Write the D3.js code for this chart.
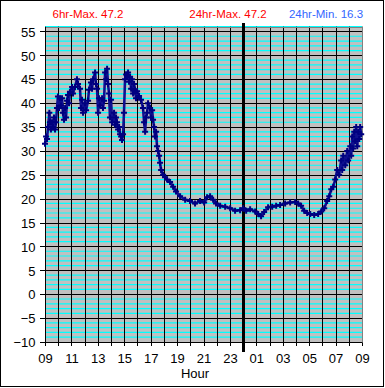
<!DOCTYPE html>
<html>
<head>
<meta charset="utf-8">
<script src="https://cdn.jsdelivr.net/npm/d3@7"></script>
<style>
  body { margin: 0; background: #fff; }
  svg { display: block; font-family: "Liberation Sans", Arial, sans-serif; }
</style>
</head>
<body>
<div id="chart"></div>
<script>
// Hours since 09:00 and temperature readings
const hours = [
  0.00, 0.08, 0.15, 0.23, 0.33, 0.38, 0.45, 0.53, 0.61, 0.68, 0.76, 0.83, 0.91, 0.98,
  1.06, 1.14, 1.21, 1.29, 1.36, 1.44, 1.52, 1.59, 1.67, 1.74, 1.82, 1.89, 2.05, 2.12,
  2.27, 2.42, 2.50, 2.65, 2.73, 2.80, 2.88, 3.03, 3.11, 3.26, 3.33, 3.48, 3.56, 3.64,
  3.79, 3.86, 3.94, 4.02, 4.09, 4.17, 4.32, 4.39, 4.47, 4.55, 4.62, 4.70, 4.77, 4.85,
  4.92, 5.00, 5.08, 5.23, 5.30, 5.38, 5.45, 5.53, 5.61, 5.68, 5.76, 5.83, 5.91, 5.98,
  6.06, 6.14, 6.21, 6.29, 6.36, 6.44, 6.52, 6.59, 6.67, 6.74, 6.82, 6.89, 6.97, 7.12,
  7.27, 7.42, 7.50, 7.58, 7.65, 7.73, 7.80, 7.95, 8.03, 8.11, 8.18, 8.26, 8.33, 8.41,
  8.48, 8.56, 8.64, 8.71, 8.79, 8.94, 9.09, 9.24, 9.47, 9.70, 9.92, 10.23, 10.61, 10.98,
  11.36, 11.74, 12.05, 12.27, 12.50, 12.73, 12.95, 13.26, 13.64, 14.02, 14.39, 14.77,
  15.00, 15.23, 15.53, 15.91, 16.14, 16.36, 16.59, 16.89, 17.20, 17.50, 17.80, 18.18,
  18.56, 18.94, 19.17, 19.39, 19.62, 19.85, 20.08, 20.38, 20.68, 20.91, 21.14, 21.36,
  21.52, 21.67, 21.82, 21.97, 22.12, 22.27, 22.42, 22.50, 22.58, 22.73, 22.88, 22.95,
  23.11, 23.18, 23.26, 23.33, 23.41, 23.48, 23.56, 23.64, 23.71, 23.79, 23.86, 23.94
];
const temps = [
  31.5, 33.0, 32.5, 35.0, 38.0, 36.0, 34.5, 36.0, 35.0, 37.0, 34.5, 36.0, 39.0, 41.4,
  39.0, 41.0, 39.5, 41.0, 38.0, 36.5, 39.0, 37.0, 40.5, 41.7, 40.0, 42.4, 43.4, 42.0,
  43.4, 45.0, 44.0, 43.0, 39.0, 40.7, 38.0, 40.0, 38.5, 40.5, 42.8, 44.3, 43.0, 45.0,
  46.4, 44.0, 43.0, 38.0, 41.0, 39.5, 41.0, 39.0, 40.5, 46.4, 45.0, 47.2, 44.0, 42.0,
  37.0, 40.7, 36.0, 38.0, 35.5, 37.0, 36.0, 34.5, 35.0, 33.5, 33.0, 32.3, 33.5, 38.0,
  45.0, 46.0, 45.5, 46.4, 44.5, 45.5, 43.0, 45.0, 42.0, 44.0, 42.8, 41.0, 42.5, 41.5,
  40.7, 39.0, 36.0, 34.0, 37.0, 38.0, 40.0, 39.0, 37.0, 38.5, 36.5, 35.0, 33.0, 34.0,
  31.0, 30.0, 29.0, 27.5, 26.0, 25.0, 24.5, 24.0, 23.5, 22.5, 21.5, 20.5, 19.8, 19.5,
  19.0, 19.5, 19.2, 20.3, 20.5, 19.8, 19.0, 18.5, 18.3, 18.0, 17.5, 17.6,
  18.0, 17.5, 17.8, 17.3, 16.8, 16.3, 17.2, 18.2, 18.3, 18.5, 18.7, 19.0,
  19.2, 19.3, 19.0, 18.5, 17.5, 17.0, 16.8, 16.6, 16.8, 17.3, 18.0, 19.5,
  20.5, 22.0, 22.5, 24.0, 26.0, 25.0, 28.0, 26.0, 29.0, 27.0, 30.0, 28.0,
  31.0, 29.0, 33.0, 30.5, 34.0, 32.0, 35.0, 31.0, 34.0, 32.5, 35.0, 33.5
];
const yTicks = [-10, -5, 0, 5, 10, 15, 20, 25, 30, 35, 40, 45, 50, 55];
const headers = [
  { text: "6hr-Max. 47.2", color: "#ff0000" },
  { text: "24hr-Max. 47.2", color: "#ff0000" },
  { text: "24hr-Min. 16.3", color: "#3366ff" }
];
const startHour = 9;
const midnight = 15; // hours after 09:00

const W = 385, H = 388;
const plotL = 45, plotR = 362, plotT = 26.7, plotB = 342;

const svg = d3.select("#chart").append("svg")
  .attr("width", W)
  .attr("height", H);

// outer frame
svg.append("rect")
  .attr("x", 0.5).attr("y", 0.5)
  .attr("width", 383).attr("height", 386)
  .attr("fill", "#fff")
  .attr("stroke", "#000");

const x = d3.scaleLinear().domain([0, 24]).range([plotL, plotR]);
const y = d3.scaleLinear().domain([-10, 56]).range([plotB, plotT]);

// plot area
svg.append("rect")
  .attr("x", plotL).attr("y", plotT)
  .attr("width", plotR - plotL).attr("height", plotB - plotT)
  .attr("fill", "#c0c0c0");

// minor cyan lines every 1 unit
const minor = d3.range(-9, 57).filter(v => v % 5 !== 0);
svg.append("g").selectAll("line")
  .data(minor)
  .enter().append("line")
  .attr("x1", plotL).attr("x2", plotR)
  .attr("y1", d => y(d)).attr("y2", d => y(d))
  .attr("stroke", "#00ffff")
  .attr("stroke-width", 1.2);

// major horizontal lines
svg.append("g").selectAll("line")
  .data(yTicks)
  .enter().append("line")
  .attr("x1", plotL - 5).attr("x2", plotR)
  .attr("y1", d => Math.round(y(d)) + 0.5).attr("y2", d => Math.round(y(d)) + 0.5)
  .attr("stroke", "#000");

// vertical hour lines
svg.append("g").selectAll("line")
  .data(d3.range(0, 25))
  .enter().append("line")
  .attr("x1", d => Math.round(x(d)) + 0.5).attr("x2", d => Math.round(x(d)) + 0.5)
  .attr("y1", plotT).attr("y2", plotB + 4)
  .attr("stroke", "#000");

// plot border (right/top gray)
svg.append("rect")
  .attr("x", plotL + 0.5).attr("y", Math.round(plotT) + 0.5)
  .attr("width", plotR - plotL).attr("height", plotB - Math.round(plotT))
  .attr("fill", "none")
  .attr("stroke", "#808080");

// y axis
const yAxis = svg.append("g")
  .attr("transform", `translate(${plotL + 0.5},0)`)
  .call(d3.axisLeft(y).tickValues(yTicks).tickSize(5).tickPadding(5));
yAxis.select(".domain").attr("d", `M0,${Math.round(plotT)}V${plotB + 0.5}`).attr("stroke", "#000");
yAxis.selectAll(".tick line").remove();
yAxis.selectAll("text")
  .attr("font-size", "13px")
  .attr("font-family", "Liberation Sans, Arial, sans-serif")
  .attr("fill", "#000")
  .attr("dy", "0.36em");

// x axis
const xAxis = svg.append("g")
  .attr("transform", `translate(0,${plotB + 0.5})`)
  .call(d3.axisBottom(x)
    .tickValues(d3.range(0, 25))
    .tickSize(4)
    .tickPadding(7)
    .tickFormat(d => d % 2 === 0 ? String((startHour + d) % 24).padStart(2, "0") : ""));
xAxis.select(".domain").attr("d", `M${plotL},0H${plotR + 0.5}`).attr("stroke", "#000");
xAxis.selectAll(".tick line").remove();
xAxis.selectAll("text")
  .attr("font-size", "13px")
  .attr("font-family", "Liberation Sans, Arial, sans-serif")
  .attr("fill", "#000");

// midnight marker
svg.append("line")
  .attr("x1", Math.round(x(midnight)) + 0.5).attr("x2", Math.round(x(midnight)) + 0.5)
  .attr("y1", 23).attr("y2", 352)
  .attr("stroke", "#000")
  .attr("stroke-width", 3);

// data
const data = hours.map((h, i) => ({ h: h, t: temps[i] }));

const line = d3.line()
  .x(d => x(d.h))
  .y(d => y(d.t));

svg.append("path")
  .datum(data)
  .attr("d", line)
  .attr("fill", "none")
  .attr("stroke", "#101090")
  .attr("stroke-width", 2.6)
  .attr("stroke-linejoin", "round");

svg.append("g").selectAll("path")
  .data(data)
  .enter().append("path")
  .attr("transform", d => `translate(${x(d.h)},${y(d.t)})`)
  .attr("d", "M-3,0H3M0,-3V3")
  .attr("stroke", "#000080")
  .attr("stroke-width", 2)
  .attr("fill", "none");

// header texts
const headerX = [88, 228, 326];
svg.append("g").selectAll("text")
  .data(headers)
  .enter().append("text")
  .attr("x", (d, i) => headerX[i])
  .attr("y", 18)
  .attr("text-anchor", "middle")
  .attr("font-size", "11.5px")
  .attr("fill", d => d.color)
  .text(d => d.text);

// x axis label
svg.append("text")
  .attr("x", 195)
  .attr("y", 378)
  .attr("text-anchor", "middle")
  .attr("font-size", "13px")
  .text("Hour");
</script>
</body>
</html>
